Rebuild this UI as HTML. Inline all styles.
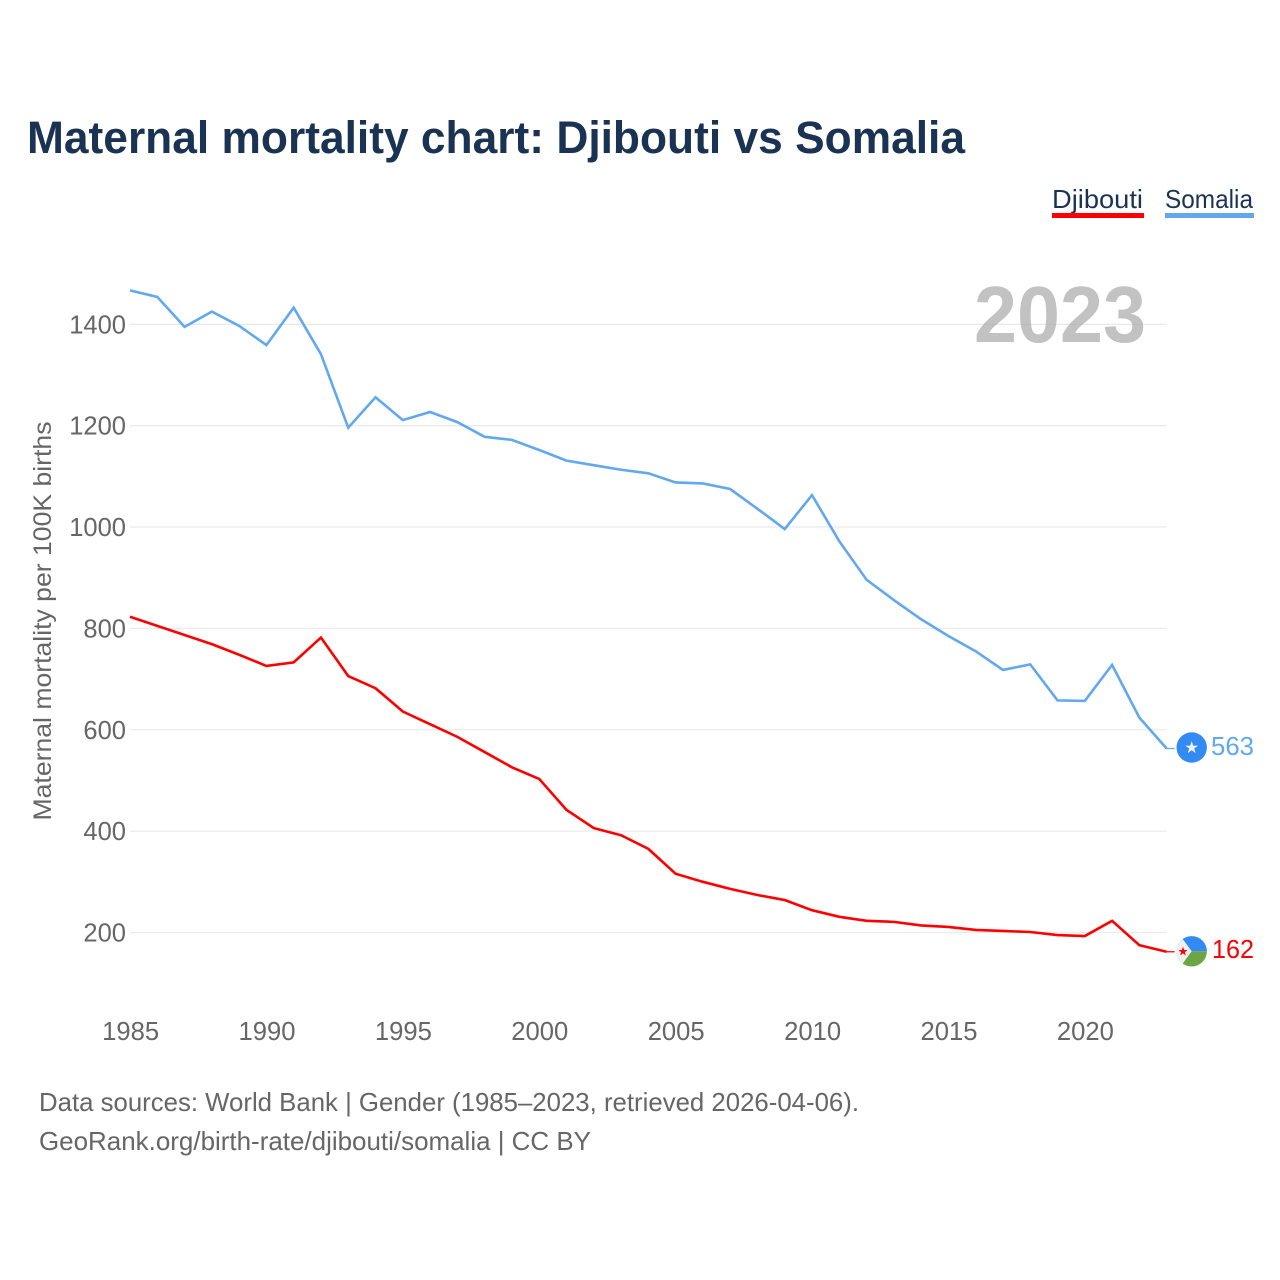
<!DOCTYPE html>
<html lang="en">
<head>
<meta charset="utf-8">
<title>Maternal mortality chart: Djibouti vs Somalia</title>
<style>
html,body{margin:0;padding:0;background:#fff;width:1280px;height:1280px;overflow:hidden}
svg{display:block}
text{font-family:"Liberation Sans",sans-serif}
</style>
</head>
<body>
<svg id="chart" xmlns="http://www.w3.org/2000/svg" width="1280" height="1280" viewBox="0 0 1280 1280">
  <text x="27" y="153" font-size="45" font-weight="700" fill="#1a3353" textLength="938" lengthAdjust="spacingAndGlyphs">Maternal mortality chart: Djibouti vs Somalia</text>

  <g>
    <g>
      <text x="1052" y="208" font-size="26" fill="#1a3353" textLength="91" lengthAdjust="spacingAndGlyphs">Djibouti</text>
      <rect x="1052" y="213" width="92" height="5" fill="#ff0000"></rect>
    </g>
    <g>
      <text x="1165" y="208" font-size="26" fill="#1a3353" textLength="88" lengthAdjust="spacingAndGlyphs">Somalia</text>
      <rect x="1165" y="213" width="89" height="5" fill="#62a8ee"></rect>
    </g>
  </g>

  <g id="grid"></g>
  <g id="yticks"></g>
  <g id="xticks"></g>

  <text x="0" y="0" transform="translate(51,621) rotate(-90)" text-anchor="middle" font-size="25" fill="#666666" textLength="399" lengthAdjust="spacingAndGlyphs">Maternal mortality per 100K births</text>

  <text x="1146" y="342" text-anchor="end" font-size="80" font-weight="700" fill="#a8a8a8" fill-opacity="0.7" textLength="172" lengthAdjust="spacingAndGlyphs">2023</text>

  <g id="series"></g>

  <g id="flag-somalia">
    <circle cx="1191.7" cy="747.5" r="15.2" fill="#338af3"></circle>
    <polygon points="1191.7,741 1193.2,745.6 1198.1,745.6 1194.2,748.5 1195.7,753.1 1191.7,750.3 1187.7,753.1 1189.2,748.5 1185.3,745.6 1190.2,745.6" fill="#f0f0f0"></polygon>
  </g>

  <g id="flag-djibouti">
    <clipPath id="djclip"><circle cx="1191.7" cy="951.3" r="15.2"></circle></clipPath>
    <g clip-path="url(#djclip)">
      <rect x="1176" y="936" width="31" height="15.3" fill="#338af3"></rect>
      <rect x="1176" y="951.3" width="31" height="16" fill="#6da544"></rect>
      <polygon points="1176,930 1191.7,951.3 1176,972.6" fill="#f0f0f0"></polygon>
    </g>
    <polygon points="1183,946.5 1184.1,950 1187.6,950 1184.8,952.1 1185.9,955.5 1183,953.4 1180.1,955.5 1181.2,952.1 1178.4,950 1181.9,950" fill="#ff0000"></polygon>
  </g>

  <text x="1254" y="755" text-anchor="end" font-size="26" fill="#62a8ee" textLength="43" lengthAdjust="spacingAndGlyphs">563</text>
  <text x="1254" y="958" text-anchor="end" font-size="26" fill="#ff0000" textLength="42" lengthAdjust="spacingAndGlyphs">162</text>

  <g>
    <text x="39" y="1111" font-size="26" fill="#666666" textLength="820" lengthAdjust="spacingAndGlyphs">Data sources: World Bank | Gender (1985–2023, retrieved 2026-04-06).</text>
    <text x="39" y="1150" font-size="26" fill="#666666" textLength="552" lengthAdjust="spacingAndGlyphs">GeoRank.org/birth-rate/djibouti/somalia | CC BY</text>
  </g>
</svg>
<script>
const years = [1985,1986,1987,1988,1989,1990,1991,1992,1993,1994,1995,1996,1997,1998,1999,2000,2001,2002,2003,2004,2005,2006,2007,2008,2009,2010,2011,2012,2013,2014,2015,2016,2017,2018,2019,2020,2021,2022,2023];
const somalia = [1467,1454,1395,1425,1397,1359,1433,1341,1196,1256,1211,1227,1207,1178,1172,1152,1131,1122,1113,1106,1088,1086,1075,1036,996,1063,972,896,856,818,785,755,718,729,658,657,728,624,563];
const djibouti = [823,805,787,769,748,726,733,782,706,682,636,611,586,556,526,503,442,406,392,365,316,300,286,274,264,244,231,223,221,214,211,205,203,201,195,193,223,175,162];
const yTickValues = [200,400,600,800,1000,1200,1400];
const xTickValues = [1985,1990,1995,2000,2005,2010,2015,2020];

const NS = 'http://www.w3.org/2000/svg';
function xScale(year){ return 130 + (year - 1985) * 27.28; }
function yScale(value){ return 932.5 - (value - 200) * (932.5 - 324.3) / 1200; }

const gridG = document.getElementById('grid');
const yG = document.getElementById('yticks');
const xG = document.getElementById('xticks');
const seriesG = document.getElementById('series');

yTickValues.forEach(function(v){
  const line = document.createElementNS(NS, 'line');
  
  
  line.setAttribute('x1', xScale(1985));
  line.setAttribute('x2', xScale(2023));
  line.setAttribute('y1', yScale(v));
  line.setAttribute('y2', yScale(v));
  line.setAttribute('stroke', '#ebebeb');
  line.setAttribute('stroke-width', '1.3');
  gridG.appendChild(line);

  const t = document.createElementNS(NS, 'text');
  
  
  t.setAttribute('x', 126);
  t.setAttribute('y', yScale(v) + 9);
  t.setAttribute('text-anchor', 'end');
  t.setAttribute('font-size', '26');
  t.setAttribute('fill', '#666666');
  t.setAttribute('textLength', String(v).length * 14.2);
  t.setAttribute('lengthAdjust', 'spacingAndGlyphs');
  t.textContent = v;
  yG.appendChild(t);
});

xTickValues.forEach(function(y){
  const t = document.createElementNS(NS, 'text');
  
  
  t.setAttribute('x', xScale(y) + 0.6);
  t.setAttribute('y', 1040);
  t.setAttribute('text-anchor', 'middle');
  t.setAttribute('font-size', '26');
  t.setAttribute('fill', '#666666');
  t.setAttribute('textLength', 57);
  t.setAttribute('lengthAdjust', 'spacingAndGlyphs');
  t.textContent = y;
  xG.appendChild(t);
});

function pathFor(values){
  return values.map(function(v, i){
    return (i ? 'L' : 'M') + xScale(years[i]).toFixed(2) + ' ' + yScale(v).toFixed(2);
  }).join(' ');
}

const somaliaLine = document.createElementNS(NS, 'path');


somaliaLine.setAttribute('d', pathFor(somalia));
somaliaLine.setAttribute('fill', 'none');
somaliaLine.setAttribute('stroke', '#62a8ee');
somaliaLine.setAttribute('stroke-width', '2.6');
seriesG.appendChild(somaliaLine);

const djiboutiLine = document.createElementNS(NS, 'path');


djiboutiLine.setAttribute('d', pathFor(djibouti));
djiboutiLine.setAttribute('fill', 'none');
djiboutiLine.setAttribute('stroke', '#ff0000');
djiboutiLine.setAttribute('stroke-width', '2.6');
seriesG.appendChild(djiboutiLine);

const somaliaLeader = document.createElementNS(NS, 'line');


somaliaLeader.setAttribute('x1', xScale(2023));
somaliaLeader.setAttribute('x2', xScale(2023) + 8);
somaliaLeader.setAttribute('y1', yScale(somalia[somalia.length - 1]));
somaliaLeader.setAttribute('y2', yScale(somalia[somalia.length - 1]));
somaliaLeader.setAttribute('stroke', '#62a8ee');
somaliaLeader.setAttribute('stroke-width', '1.3');
seriesG.appendChild(somaliaLeader);

const djiboutiLeader = document.createElementNS(NS, 'line');


djiboutiLeader.setAttribute('x1', xScale(2023));
djiboutiLeader.setAttribute('x2', xScale(2023) + 8);
djiboutiLeader.setAttribute('y1', yScale(djibouti[djibouti.length - 1]));
djiboutiLeader.setAttribute('y2', yScale(djibouti[djibouti.length - 1]));
djiboutiLeader.setAttribute('stroke', '#ff0000');
djiboutiLeader.setAttribute('stroke-width', '1.3');
seriesG.appendChild(djiboutiLeader);
</script>
</body>
</html>
